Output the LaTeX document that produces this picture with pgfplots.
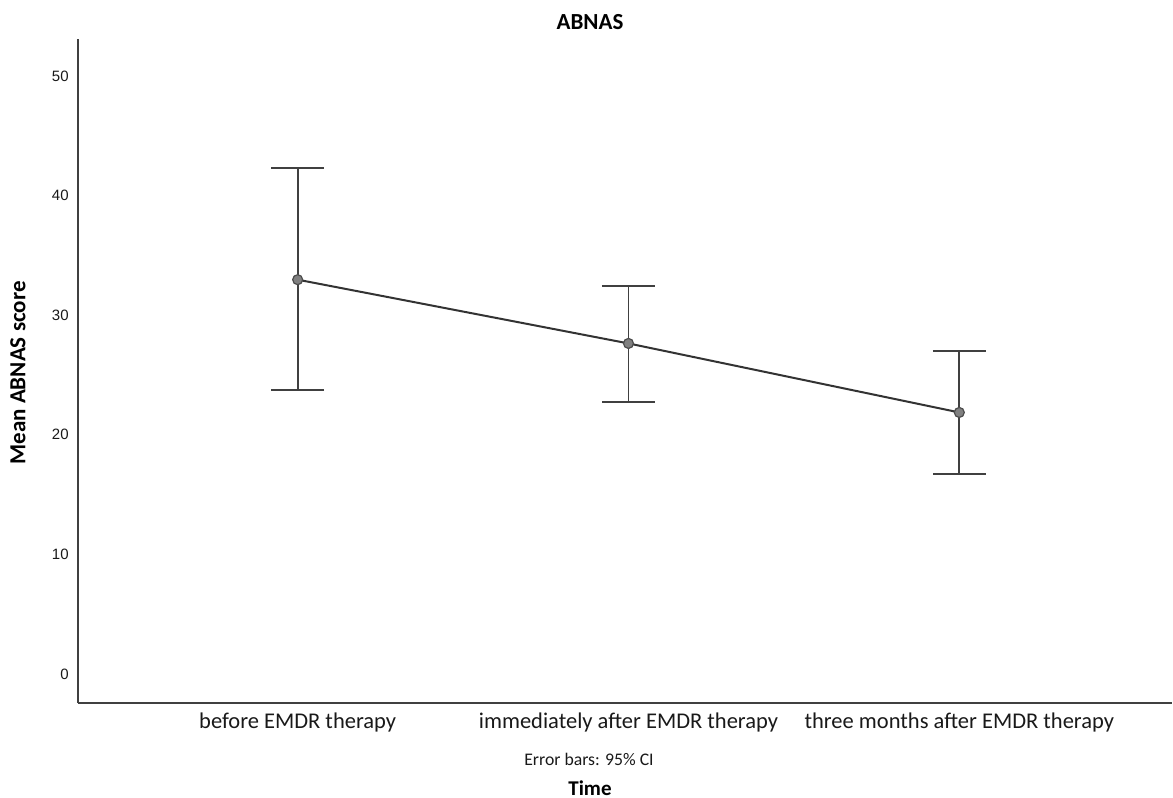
\documentclass[border=0pt]{standalone}
\usepackage{fontspec}
\setmainfont{Carlito}
\newfontfamily\arial{Liberation Sans}
\usepackage{pgfplots}
\pgfplotsset{compat=1.18}
\begin{document}
\begin{tikzpicture}
\useasboundingbox (-39pt,-47.5pt) rectangle (547.5pt,351.5pt);
\begin{axis}[
  at={(0,0)}, anchor=south west,
  scale only axis, width=547pt, height=332pt,
  xmin=-0.664, xmax=2.643, ymin=-2.42, ymax=53.09,
  axis x line*=bottom, axis y line*=left,
  axis line style={draw=black!75, line width=0.8pt, -},
  major tick length=0pt,
  xtick={0,1,2},
  xticklabels={before EMDR therapy, immediately after EMDR therapy, three months after EMDR therapy},
  xticklabel style={font=\fontsize{11.25}{13}\selectfont, text=black!90, anchor=base, yshift=-12.5pt, inner sep=0pt},
  ytick={0,10,20,30,40,50},
  yticklabels={0,10,20,30,40,50},
  yticklabel style={font=\arial\fontsize{7.5}{9}\selectfont, text=black!90, anchor=east, inner sep=0pt, xshift=-4.5pt},
  clip=false,
]
\addplot[draw=none, mark=none, forget plot,
  error bars/.cd, y dir=both, y explicit,
  error bar style={line width=0.9pt, black!75},
  error mark options={rotate=90, mark size=13.25pt, line width=0.9pt, black!75}]
  coordinates {
    (0,32.97) += (0,9.34) -= (0,9.22)
    (1,27.64) += (0,4.77) -= (0,4.90)
    (2,21.87) += (0,5.11) -= (0,5.15)
  };
\addplot[color=black!80, line width=1pt, mark=*, mark size=2.5pt,
  mark options={fill=black!50, draw=black!70, line width=0.6pt}]
  coordinates {(0,32.97) (1,27.64) (2,21.87)};
\end{axis}
\node[font=\bfseries\fontsize{11.5}{13}\selectfont] at (256pt,340.5pt) {ABNAS};
\node[font=\bfseries\fontsize{11.5}{13}\selectfont, rotate=90] at (-30pt,165pt) {Mean ABNAS score};
\node[font=\fontsize{8.85}{10}\selectfont, text=black!90] at (255.5pt,-28pt) {Error bars: 95\% CI};
\node[font=\bfseries\fontsize{10.5}{12}\selectfont] at (256pt,-42.5pt) {Time};
\end{tikzpicture}
\end{document}
